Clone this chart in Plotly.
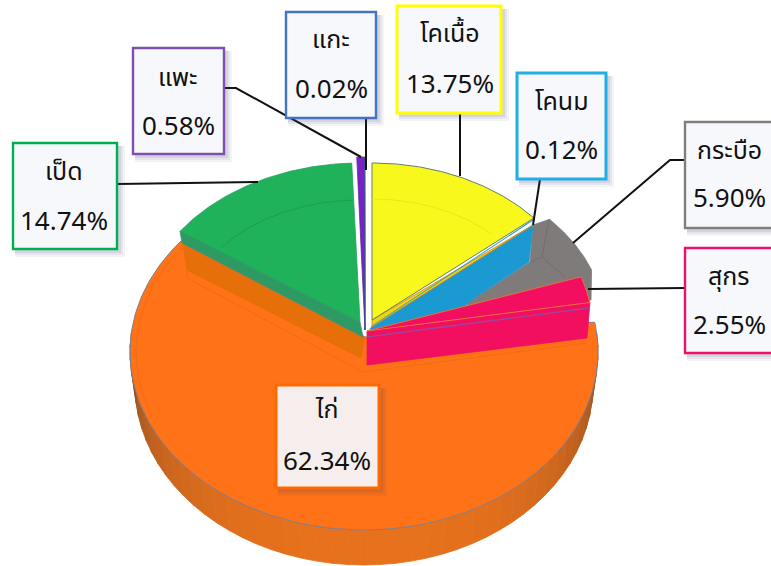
import numpy as np
import plotly.graph_objects as go

categories = ["โคเนื้อ", "โคนม", "กระบือ", "สุกร", "ไก่", "เป็ด", "แพะ", "แกะ"]
values = [13.75, 0.12, 5.90, 2.55, 62.34, 14.74, 0.58, 0.02]
colors = ["#F8F81C", "#1B9AD2", "#7F7B7B", "#F20F5F", "#FF7218", "#1FB25A", "#7B1FC8", "#4472C4"]
borders = ["#FFFF00", "#1FAEE8", "#7F7F7F", "#F0106A", "#FF6A00", "#00B050", "#7E4FB0", "#4472C4"]

FONT = "Noto Sans, Noto Sans Thai, Tahoma, sans-serif"
ends = np.cumsum(values) * 3.6
starts = ends - np.array(values) * 3.6
ang = {c: (s, e) for c, s, e in zip(categories, starts, ends)}


def arc(cx, cy, rx, ry, a0, a1, n=80):
    t = np.radians(np.linspace(a0, a1, n))
    return cx + rx * np.sin(t), cy - ry * np.cos(t)


fig = go.Figure()


def poly(x, y, fill, line=None, w=0.8):
    fig.add_trace(go.Scatter(x=list(x) + [x[0]], y=list(y) + [y[0]], mode="lines", fill="toself",
                             fillcolor=fill, line=dict(color=line or fill, width=w),
                             hoverinfo="skip", showlegend=False))


def stroke(x, y, color, w=0.8):
    fig.add_trace(go.Scatter(x=list(x), y=list(y), mode="lines", line=dict(color=color, width=w),
                             hoverinfo="skip", showlegend=False))


def wedge(name, apex, centre, rx, ry, fill, line=None, w=0.8):
    a0, a1 = ang[name]
    x, y = arc(centre[0], centre[1], rx, ry, a0, a1)
    poly(np.r_[apex[0], x], np.r_[apex[1], y], fill, line, w)


# orange rim, shaded darker toward both ends
rim_dark = np.array([128, 72, 36])
rim_light = np.array([232, 114, 28])
edges = np.linspace(84, 276, 49)
for a, b in zip(edges[:-1], edges[1:]):
    k = min(abs((a + b) / 2 - 180) / 96, 1) ** 2.5
    r, g, bl = (rim_light + (rim_dark - rim_light) * k).astype(int)
    col = f"rgb({r},{g},{bl})"
    xa, ya = arc(364, 352, 234, 178, a, b, 6)
    xb, yb = arc(364, 385, 229, 180, b, a, 6)
    poly(np.r_[xa, xb], np.r_[ya, yb], col)

# orange top
a0, a1 = ang["ไก่"]
x, y = arc(364, 352, 234, 178, a0, a1 + 4, 160)
poly(np.r_[365, x], np.r_[337, y], "#FF7218", "#7D7F8C", 1)
poly([182, 365, 361, 187], [240, 337, 358, 270], "#E66F0A")
stroke([187, 187, 363, 587], [243, 278, 372, 343], "#EE6A10", 0.8)
x, y = arc(364, 352, 228, 174, 250, 304)
stroke(x, y, "#EE6A10", 0.8)

# grey
g0, g1 = ang["กระบือ"]
x, y = arc(372, 321, 232, 158, g0, g1)
poly(np.r_[533, x, 591, 470, 467, 530], np.r_[225, y, 300, 325, 303, 262], "#7F7B7B", "#807C7C")
stroke([542, 565], [257, 277], "#6F6B6B")
stroke([549, 542, 530], [219, 257, 262], "#6F6B6B")

# blue wall and wedge
poly([533, 529, 467, 460, 367, 372], [225, 262, 303, 322, 335, 326], "#1B9AD2")

# yellow
poly([372, 372, 533], [320, 327, 225], "#F2D40C", "#E07A20", 0.8)
wedge("โคเนื้อ", (372, 320), (372, 320), 213, 157, "#F8F81C", "#5F7F6A", 1)
y0, y1 = ang["โคเนื้อ"]
x, y = arc(372, 320, 170, 121, y0, y1 - 5)
stroke(x, y, "#E3E31C")
wedge("โคนม", (372, 326), (372, 320), 213, 157, "#1B9AD2", "#1B9AD2", 0.5)

# pink
poly([367, 590, 587, 367], [331, 302, 338, 365], "#F20F5F")
wedge("สุกร", (367, 331), (367, 331), 226, 170, "#F20F5F", "#E8703A", 1)
stroke([367, 589], [337, 308], "#A0459A", 1.4)

# green
poly([180, 360, 363, 182], [231, 322, 337, 243], "#2C9A62", "#4F8D7C", 0.8)
wedge("เป็ด", (360, 322), (360, 322), 219, 159, "#1FB25A", "#2BA05F", 0.8)
g0, g1 = ang["เป็ด"]
x, y = arc(360, 322, 175, 122, g0 + 3, g1)
stroke(x, y, "#1A9A4E")

# purple, sheep
wedge("แพะ", (365, 330), (365, 330), 219, 173, "#7B1FC8", "#5A2E9A", 0.8)
wedge("แกะ", (365, 330), (365, 330), 219, 173, "#4472C4", "#3E4C88", 0.8)

# leader lines
leaders = {
    "เป็ด": ([117, 258], [184, 182]),
    "แพะ": ([224, 236, 361], [88, 88, 157]),
    "แกะ": ([366, 366], [118, 170]),
    "โคเนื้อ": ([460, 460], [113, 176]),
    "โคนม": ([540, 533], [179, 225]),
    "กระบือ": ([685, 670, 573], [160, 160, 243]),
    "สุกร": ([685, 588], [288, 289]),
}
for k, (lx, ly) in leaders.items():
    stroke(lx, ly, "#111111", 2)

# label boxes: x0, x1, y0, y1, name line y, value line y, text centre
boxes = {
    "เป็ด": (13, 117, 143, 249, 170, 220, 64),
    "แพะ": (133, 224, 48, 154, 76, 125, 178),
    "แกะ": (286, 376, 12, 118, 38, 88, 331),
    "โคเนื้อ": (397, 501, 6, 113, 32, 83, 450),
    "โคนม": (517, 606, 73, 179, 100, 149, 561),
    "กระบือ": (685, 775, 122, 228, 149, 197, 729),
    "สุกร": (685, 775, 248, 353, 275, 324, 729),
    "ไก่": (276, 379, 385, 488, 408, 460, 327),
}
shapes, annotations = [], []
for name, v, bc in zip(categories, values, borders):
    x0, x1, y0, y1, ty, vy, tx = boxes[name]
    for off, op in ((8, 0.06), (6, 0.08), (4, 0.10)):
        shapes.append(dict(type="rect", x0=x0 + 2, x1=x1 + off, y0=y0 + 3, y1=y1 + off, layer="above",
                           line=dict(width=0), fillcolor=f"rgba(60,70,110,{op})"))
    shapes.append(dict(type="rect", x0=x0, x1=x1, y0=y0, y1=y1, layer="above",
                       line=dict(color=bc, width=3 if name in ("โคเนื้อ", "โคนม", "ไก่") else 2.4),
                       fillcolor="#F6EEEC" if name == "ไก่" else "#F7F8FB"))
    annotations.append(dict(x=tx, y=ty, text=name, showarrow=False, xanchor="center", yanchor="middle",
                            font=dict(family=FONT, size=25, color="#111111")))
    annotations.append(dict(x=tx, y=vy, text=f"{v:.2f}%", showarrow=False, xanchor="center", yanchor="middle",
                            font=dict(family=FONT, size=26, color="#111111")))

fig.update_layout(
    width=771, height=566, autosize=False, margin=dict(l=0, r=0, t=0, b=0),
    paper_bgcolor="white", plot_bgcolor="white", showlegend=False,
    xaxis=dict(range=[0, 771], visible=False, fixedrange=True),
    yaxis=dict(range=[566, 0], visible=False, fixedrange=True),
    shapes=shapes, annotations=annotations,
)
fig.write_html("out.html", config=dict(displayModeBar=False),
               post_script="document.body.style.margin='0';document.documentElement.style.overflow='hidden';")
